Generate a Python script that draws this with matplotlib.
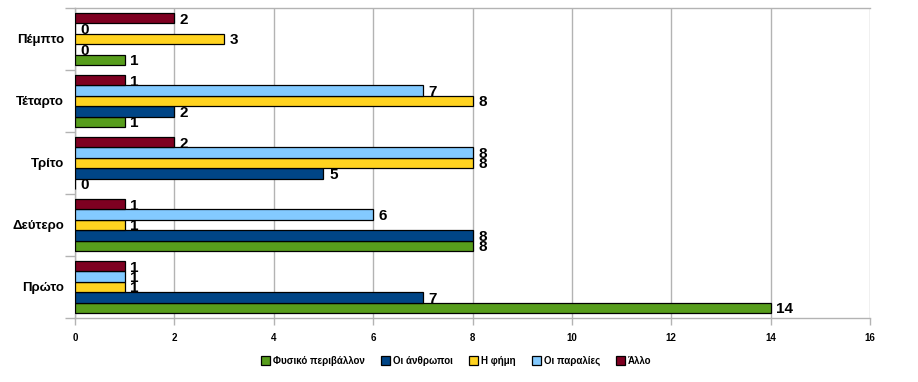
import matplotlib
matplotlib.use("Agg")
import matplotlib.pyplot as plt
import numpy as np

plt.rcParams['font.family'] = ['Liberation Sans', 'DejaVu Sans']

categories = ["Πρώτο", "Δεύτερο", "Τρίτο", "Τέταρτο", "Πέμπτο"]
series_names = ["Φυσικό περιβάλλον", "Οι άνθρωποι", "Η φήμη", "Οι παραλίες", "Άλλο"]
colors = ["#579D1C", "#004586", "#FFD320", "#83CAFF", "#7E0021"]
fysiko = [14, 8, 0, 1, 1]
anthropoi = [7, 8, 5, 2, 0]
fimi = [1, 1, 8, 8, 3]
paralies = [1, 6, 8, 7, 0]
allo = [1, 1, 2, 1, 2]
series = [fysiko, anthropoi, fimi, paralies, allo]
xticks = [0, 2, 4, 6, 8, 10, 12, 14, 16]

fig = plt.figure(figsize=(9.18, 3.82), dpi=100)
ax = fig.add_axes([75/918, 1-318/382, (870-75)/918, (318-8)/382])

y = np.arange(len(categories))
h = 0.168
for i, (vals, name, col) in enumerate(zip(series, series_names, colors)):
    pos = y + (i - 2) * h
    lws = [0.9 if v else 0 for v in vals]
    ax.barh(pos, vals, height=h, color=col, edgecolor="black", linewidth=lws,
            label=name, zorder=3)
    for p, v in zip(pos, vals):
        ax.annotate(str(v), (v, p), xytext=(4, -1), textcoords="offset points",
                    ha="left", va="center", fontsize=11, fontweight="bold", zorder=4)

ax.set_xlim(0, 16)
ax.set_ylim(-0.5, 4.5)
ax.set_xticks(xticks)
ax.set_xticklabels([str(t) for t in xticks], fontsize=7, fontweight="bold")
ax.set_yticks(y)
ax.set_yticklabels(categories, fontsize=9.5, fontweight="bold")
ax.set_yticks(np.arange(-0.5, 5.0, 1.0), minor=True)
ax.tick_params(axis="y", which="major", length=0, pad=8)
ax.tick_params(axis="y", which="minor", length=7, color="#b3b3b3", width=1)
ax.tick_params(axis="x", which="major", length=5, color="#b3b3b3", width=1, pad=6)
ax.grid(axis="x", color="#b3b3b3", linewidth=1, zorder=0)
for s in ["left", "bottom", "top"]:
    ax.spines[s].set_color("#b3b3b3")
    ax.spines[s].set_linewidth(1)
ax.spines["right"].set_visible(False)

handles, labels = ax.get_legend_handles_labels()
for hd in handles:
    for patch in hd.patches:
        patch.set_linewidth(0.9)
leg = fig.legend(handles, labels, loc="center", bbox_to_anchor=(0.497, 0.055), ncol=5,
                 frameon=False, prop={"size": 7, "weight": "bold"}, handlelength=0.9,
                 handleheight=0.9, handletextpad=0.3, columnspacing=1.7)
for hd in leg.legend_handles:
    hd.set_linewidth(0.9)
    hd.set_edgecolor("black")

fig.savefig("out.png", dpi=100)
